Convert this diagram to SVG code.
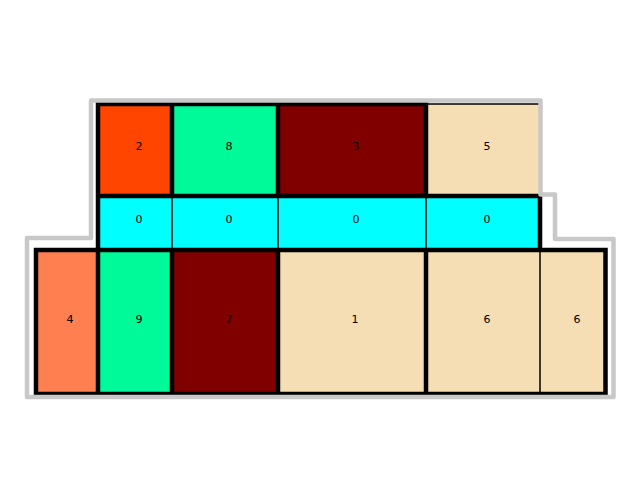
<svg xmlns="http://www.w3.org/2000/svg" width="640" height="500" viewBox="0 0 640 500">
<style>
text{font-family:"DejaVu Sans","Liberation Sans",sans-serif;font-size:11px;fill:#000;text-anchor:middle;dominant-baseline:central}
.thick{stroke:#000;stroke-width:4.5;stroke-linecap:square;fill:none}
.thin{stroke:#000;stroke-width:1.5;fill:none}
.outline{stroke:#c8c8c8;stroke-width:4.5;fill:none;stroke-linejoin:round}
</style>
<rect width="640" height="500" fill="#fff"/>
<g id="cell-2"><rect x="98" y="104" width="74" height="92" fill="#ff4500"/><text x="139" y="146">2</text></g>
<g id="cell-8"><rect x="172" y="104" width="106" height="92" fill="#00fa9a"/><text x="229" y="146">8</text></g>
<g id="cell-3"><rect x="278" y="104" width="148" height="92" fill="#800000"/><text x="356" y="146">3</text></g>
<g id="cell-5"><rect x="426" y="104" width="114" height="92" fill="#f5deb3"/><text x="487" y="146">5</text></g>
<g id="cell-0a"><rect x="98" y="196" width="74" height="54" fill="#00ffff"/><text x="139" y="219">0</text></g>
<g id="cell-0b"><rect x="172" y="196" width="106" height="54" fill="#00ffff"/><text x="229" y="219">0</text></g>
<g id="cell-0c"><rect x="278" y="196" width="148" height="54" fill="#00ffff"/><text x="356" y="219">0</text></g>
<g id="cell-0d"><rect x="426" y="196" width="114" height="54" fill="#00ffff"/><text x="487" y="219">0</text></g>
<g id="cell-4"><rect x="36" y="250" width="62" height="144" fill="#ff7f50"/><text x="70" y="319">4</text></g>
<g id="cell-9"><rect x="98" y="250" width="74" height="144" fill="#00fa9a"/><text x="139" y="319">9</text></g>
<g id="cell-7"><rect x="172" y="250" width="106" height="144" fill="#800000"/><text x="229" y="319">7</text></g>
<g id="cell-1"><rect x="278" y="250" width="148" height="144" fill="#f5deb3"/><text x="355" y="319">1</text></g>
<g id="cell-6a"><rect x="426" y="250" width="114" height="144" fill="#f5deb3"/><text x="487" y="319">6</text></g>
<g id="cell-6b"><rect x="540" y="250" width="65.5" height="144" fill="#f5deb3"/><text x="577" y="319">6</text></g>
<g id="connectors">
<path class="thin" d="M172,196V250M278,196V250M426,196V250M540,104V196M540,250V394M426,104H540"/>
<path class="thick" d="M98,104H426M98,196H540M36,250H605.5M36,394H605.5M98,104V394M172,104V196M172,250V394M278,104V196M278,250V394M426,104V196M426,250V394M540,196V250M36,250V394M605.5,250V394"/>
<path class="outline" d="M91,100.5H540.5V194.5H555V239H613.5V397H27V238H91Z"/>
</g>
</svg>
